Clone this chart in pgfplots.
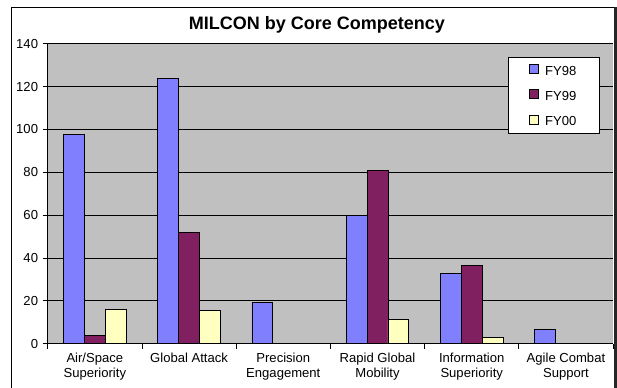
\documentclass[border=0pt]{standalone}
\usepackage{fontspec}
\setmainfont{Liberation Sans}
\usepackage{pgfplots}
\pgfplotsset{compat=1.18}

\definecolor{fyA}{RGB}{128,128,255}
\definecolor{fyB}{RGB}{128,32,96}
\definecolor{fyC}{RGB}{255,255,192}
\definecolor{plotgray}{RGB}{192,192,192}

\newcommand{\chartfont}{\fontsize{9.8}{11.25}\selectfont}

\begin{document}
\begin{tikzpicture}
\useasboundingbox (0,0) rectangle (462.75pt,-291pt);
% chart frame (bottom edge lies outside the page)
\begin{scope}
  \clip (0,0) rectangle (462.75pt,-291pt);
  \draw[line width=0.75pt] (8.25pt,-300pt) -- (8.25pt,-6pt) -- (461pt,-6pt);
  \draw[line width=2.4pt, black!85] (461.6pt,-5.6pt) -- (461.6pt,-300pt);
\end{scope}
\node[font=\fontsize{13.5}{16}\selectfont\bfseries] at (237.75pt,-18.75pt) {MILCON by Core Competency};
\begin{axis}[
  at={(35.8pt,-257.7pt)}, anchor=south west,
  scale only axis, width=424pt, height=224.9pt,
  ymin=0, ymax=140, ytick={0,20,...,140},
  xmin=-0.5, xmax=5.5,
  xtick={0,...,5},
  xticklabels={{Air/Space\\Superiority},{Global Attack},{Precision\\Engagement},{Rapid Global\\Mobility},{Information\\Superiority},{Agile Combat\\Support}},
  major x tick style={draw=none},
  minor xtick={-0.5,0.5,...,5.5},
  tick align=outside,
  major tick length=3.75pt, minor tick length=3.75pt,
  tick style={black, line width=0.6pt},
  axis background/.style={fill=plotgray},
  ymajorgrids, grid style={black, line width=0.6pt},
  axis x line*=bottom, axis y line*=left,
  axis line style={black, line width=0.6pt},
  /pgf/number format/assume math mode=true,
  tick label style={font=\chartfont},
  xticklabel style={align=center},
  legend style={at={(0.8148,0.9547)}, anchor=north west, draw=black, line width=0.6pt,
    fill=white, inner xsep=15pt, inner ysep=4pt, row sep=8pt, font=\chartfont,
    nodes={text height=7pt, text depth=0pt}},
  legend cell align=left,
  legend image code/.code={\draw[#1, line width=0.5pt] (0pt,-2.125pt) rectangle (6.75pt,4.625pt); \path (9.75pt,1.25pt);},
]
\addplot[ybar, bar width=0.222, bar shift=-0.222, fill=fyA, draw=black, line width=0.6pt]
  coordinates {(0,97.5) (1,123.7) (2,19.3) (3,60.0) (4,32.9) (5,6.7)};
\addplot[ybar, bar width=0.222, bar shift=0, fill=fyB, draw=black, line width=0.6pt]
  coordinates {(0,3.7) (1,52.0) (3,80.8) (4,36.4)};
\addplot[ybar, bar width=0.222, bar shift=0.222, fill=fyC, draw=black, line width=0.6pt]
  coordinates {(0,16.0) (1,15.4) (3,11.1) (4,3.0)};
\legend{FY98,FY99,FY00}
\end{axis}
\end{tikzpicture}
\end{document}
